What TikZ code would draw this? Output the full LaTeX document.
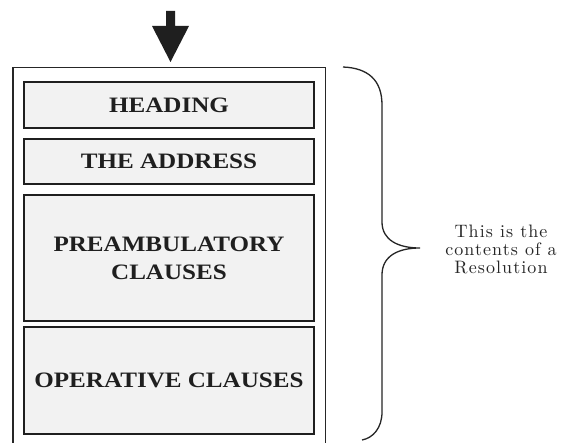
\documentclass[tikz,border=0pt]{standalone}
\usepackage{fontspec}
\setmainfont{Latin Modern Roman}
\newfontfamily\sidefont{lmroman10-regular.otf}[LetterSpace=6]
\newfontfamily\boxfont{Liberation Serif}[FakeStretch=1.14]
\begin{document}
\begin{tikzpicture}[x=1pt,y=-1pt,
  part/.style={draw=black!88,line width=2pt,fill=black!5,inner sep=0pt,
    font=\boxfont\fontsize{22}{28}\selectfont\bfseries,align=center,text=black!88},
  outer/.style={draw=black!85,line width=1.4pt},
  brace/.style={draw=black!85,line width=1.3pt},
  blockarrow/.style={fill=black!88,draw=none}]
\useasboundingbox (0,0) rectangle (566,443);
\clip (0,0) rectangle (566,443);
\fill[white] (0,0) rectangle (566,443);
% outer frame
\coordinate (olb) at (13,450);
\coordinate (olt) at (13,67.5);
\coordinate (ort) at (325.5,67.5);
\coordinate (orb) at (325.5,450);
\draw[outer] (olb) -- (olt) -- (ort) -- (orb);
% parts
\node[part,minimum width=290,minimum height=46] (heading) at (169,105) {HEADING};
\node[part,minimum width=290,minimum height=45] (address) at (169,161.5) {THE ADDRESS};
\node[part,minimum width=290,minimum height=126] (preamb) at (169,258) {PREAMBULATORY\\CLAUSES};
\node[part,minimum width=290,minimum height=107] (oper) at (169,380.5) {OPERATIVE CLAUSES};
% block arrow
\fill[blockarrow] (166,11) -- (175,11) -- (175,26) -- (189,26) -- (170.5,62)
  -- (152,26) -- (166,26) -- cycle;
% brace
\coordinate (bt) at (343,67);
\coordinate (tip) at (420,248);
\coordinate (bb) at (362,440);
\draw[brace] (bt) .. controls (368,68) and (382,80) .. (382,105)
  -- (382,222) .. controls (382,240) and (398,248) .. (tip)
  .. controls (398,248) and (382,256) .. (382,275)
  -- (382,412) .. controls (382,428) and (373,438) .. (bb);
% side text
\node[font=\sidefont\fontsize{18}{18}\selectfont,align=center,text=black!85] (side) at (501,249)
  {This is the\\contents of a\\Resolution};
\end{tikzpicture}
\end{document}
